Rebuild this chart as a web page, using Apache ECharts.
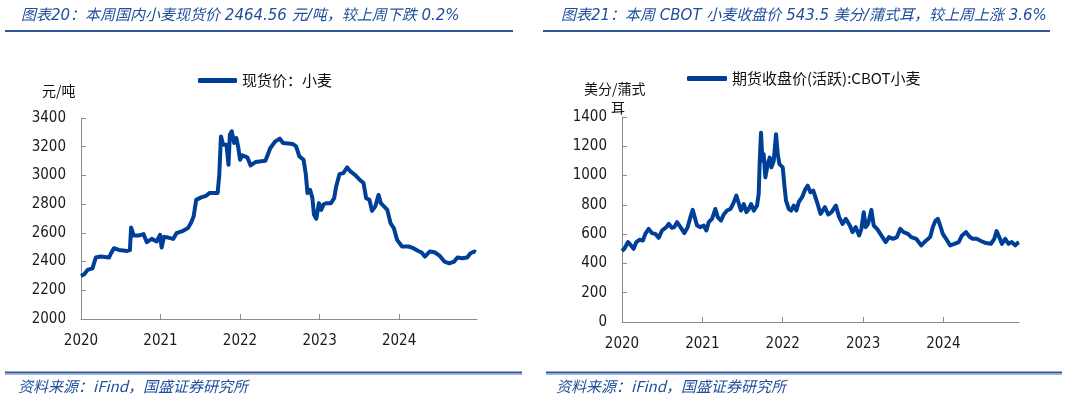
<!DOCTYPE html>
<html>
<head>
<meta charset="utf-8">
<script src="https://cdn.jsdelivr.net/npm/echarts@6/dist/echarts.min.js"></script>
<style>
  html, body { margin: 0; padding: 0; background: #fff; }
  #chart { width: 1065px; height: 398px; }
</style>
</head>
<body>
<div id="chart"></div>
<script>
// 国内小麦现货价 (元/吨), x = 年份(小数)
const wheatYear = [2020.000, 2020.041, 2020.083, 2020.145, 2020.170, 2020.186, 2020.248, 2020.352, 2020.380, 2020.414,
  2020.476, 2020.580, 2020.615, 2020.630, 2020.663, 2020.725, 2020.787, 2020.828, 2020.890, 2020.952,
  2020.994, 2021.014, 2021.043, 2021.097, 2021.159, 2021.201, 2021.284, 2021.346, 2021.387, 2021.416,
  2021.449, 2021.511, 2021.573, 2021.615, 2021.718, 2021.739, 2021.760, 2021.789, 2021.830, 2021.855,
  2021.872, 2021.896, 2021.925, 2021.954, 2021.979, 2022.000, 2022.029, 2022.091, 2022.133, 2022.195,
  2022.319, 2022.381, 2022.443, 2022.500, 2022.541, 2022.664, 2022.705, 2022.746, 2022.799, 2022.828,
  2022.848, 2022.881, 2022.910, 2022.930, 2022.959, 2022.992, 2023.020, 2023.053, 2023.094, 2023.143,
  2023.184, 2023.209, 2023.250, 2023.299, 2023.348, 2023.389, 2023.443, 2023.504, 2023.553, 2023.586,
  2023.627, 2023.660, 2023.701, 2023.742, 2023.770, 2023.811, 2023.852, 2023.893, 2023.934, 2023.975,
  2024.037, 2024.119, 2024.180, 2024.242, 2024.283, 2024.324, 2024.385, 2024.447, 2024.508, 2024.570,
  2024.631, 2024.693, 2024.734, 2024.795, 2024.857, 2024.898, 2024.947, 2024.965]
const wheatPrice = [2300, 2312, 2342, 2353, 2400, 2428, 2435, 2428, 2460, 2493,
  2481, 2474, 2480, 2637, 2581, 2581, 2591, 2535, 2558, 2540,
  2586, 2498, 2572, 2567, 2558, 2598, 2614, 2633, 2674, 2714,
  2830, 2847, 2858, 2877, 2877, 3005, 3272, 3214, 3214, 3074,
  3284, 3307, 3226, 3260, 3191, 3109, 3140, 3126, 3070, 3093,
  3102, 3191, 3237, 3256, 3226, 3219, 3202, 3133, 3109, 3005,
  2877, 2900, 2842, 2726, 2698, 2807, 2760, 2800, 2807, 2807,
  2842, 2923, 3009, 3016, 3056, 3028, 3005, 2970, 2947, 2842,
  2830, 2753, 2784, 2865, 2807, 2784, 2760, 2667, 2633, 2551,
  2505, 2505, 2493, 2474, 2463, 2435, 2470, 2465, 2442, 2400,
  2388, 2400, 2428, 2423, 2428, 2458, 2470, 2465]

// CBOT小麦期货收盘价 (美分/蒲式耳)
const cbotYear = [2020.000, 2020.029, 2020.075, 2020.112, 2020.145, 2020.178, 2020.220, 2020.261, 2020.290, 2020.332,
  2020.373, 2020.415, 2020.456, 2020.498, 2020.552, 2020.581, 2020.622, 2020.651, 2020.685, 2020.734,
  2020.776, 2020.817, 2020.851, 2020.880, 2020.905, 2020.934, 2020.975, 2021.017, 2021.050, 2021.079,
  2021.120, 2021.162, 2021.191, 2021.232, 2021.266, 2021.307, 2021.349, 2021.382, 2021.423, 2021.452,
  2021.481, 2021.515, 2021.548, 2021.577, 2021.606, 2021.639, 2021.680, 2021.701, 2021.714, 2021.730,
  2021.747, 2021.763, 2021.784, 2021.813, 2021.838, 2021.859, 2021.888, 2021.917, 2021.938, 2021.959,
  2021.979, 2022.000, 2022.021, 2022.041, 2022.075, 2022.104, 2022.137, 2022.170, 2022.199, 2022.241,
  2022.282, 2022.311, 2022.344, 2022.380, 2022.421, 2022.471, 2022.525, 2022.566, 2022.607, 2022.661,
  2022.702, 2022.744, 2022.785, 2022.835, 2022.868, 2022.909, 2022.950, 2022.979, 2023.008, 2023.033,
  2023.062, 2023.103, 2023.132, 2023.174, 2023.227, 2023.281, 2023.322, 2023.372, 2023.421, 2023.463,
  2023.504, 2023.558, 2023.599, 2023.661, 2023.723, 2023.785, 2023.835, 2023.868, 2023.901, 2023.930,
  2023.959, 2023.992, 2024.033, 2024.083, 2024.136, 2024.190, 2024.231, 2024.281, 2024.322, 2024.364,
  2024.413, 2024.467, 2024.529, 2024.591, 2024.632, 2024.661, 2024.694, 2024.727, 2024.769, 2024.810,
  2024.851, 2024.893, 2024.921, 2024.940]
const cbotPrice = [485, 500, 546, 523, 500, 546, 562, 557, 602, 636,
  607, 602, 575, 625, 648, 670, 643, 648, 682, 643,
  607, 648, 716, 766, 716, 659, 648, 659, 625, 682,
  704, 772, 716, 693, 734, 761, 772, 806, 863, 811,
  761, 806, 750, 772, 806, 761, 795, 874, 1101, 1293,
  1101, 1146, 988, 1078, 1123, 1056, 1101, 1282, 1146, 1078,
  1089, 1056, 931, 829, 772, 761, 795, 761, 818, 852,
  908, 931, 886, 897, 829, 738, 784, 734, 750, 795,
  716, 670, 704, 659, 614, 648, 591, 636, 750, 648,
  670, 766, 659, 636, 591, 546, 580, 568, 580, 636,
  614, 602, 580, 568, 523, 557, 580, 648, 693, 704,
  659, 602, 568, 523, 534, 546, 591, 614, 584, 568,
  568, 553, 539, 534, 568, 621, 580, 534, 568, 534,
  546, 523, 539, 544]

const yearTicks = [2020, 2021, 2022, 2023, 2024]

const titleColor = '#1f4e9c'
const lineColor = '#003f98'
const numFont = 'DejaVu Sans Condensed, DejaVu Sans, sans-serif'
const cjkFont = 'Noto Sans CJK SC, sans-serif'

function xAxisOf (gridIndex, max) {
  return {
    type: 'value',
    gridIndex: gridIndex,
    min: 2020,
    max: max,
    axisLine: { show: true, onZero: false, lineStyle: { color: '#8c8c8c', width: 1 } },
    axisTick: { show: true, inside: true, length: 5, customValues: yearTicks, lineStyle: { color: '#8c8c8c' } },
    axisLabel: {
      customValues: yearTicks,
      margin: 15,
      color: '#1a1a1a',
      fontFamily: numFont,
      fontSize: 15,
      formatter: v => String(Math.round(v))
    },
    splitLine: { show: false }
  }
}

function yAxisOf (gridIndex, min, max) {
  return {
    type: 'value',
    gridIndex: gridIndex,
    min: min,
    max: max,
    interval: 200,
    axisLine: { show: true, lineStyle: { color: '#8c8c8c', width: 1 } },
    axisTick: { show: true, inside: true, length: 5, lineStyle: { color: '#8c8c8c' } },
    axisLabel: { margin: 15, color: '#1a1a1a', fontFamily: numFont, fontSize: 15, formatter: v => String(v) },
    splitLine: { show: false }
  }
}

function pairs (xs, ys) {
  return xs.map((x, i) => [x, ys[i]])
}

function hLine (x1, x2, y, color, width) {
  return { type: 'line', shape: { x1: x1, y1: y, x2: x2, y2: y }, style: { stroke: color, lineWidth: width } }
}

function note (x, y, text, size, color, italic) {
  return {
    type: 'text',
    x: x,
    y: y,
    style: {
      text: text,
      fill: color,
      font: (italic ? 'italic ' : '') + size + 'px ' + cjkFont,
      textVerticalAlign: 'middle'
    }
  }
}

const chart = echarts.init(document.getElementById('chart'))

chart.setOption({
  animation: false,
  title: [
    {
      text: '图表20：本周国内小麦现货价 2464.56 元/吨，较上周下跌 0.2%',
      left: 16,
      top: 4,
      textStyle: { color: titleColor, fontStyle: 'italic', fontWeight: 'normal', fontSize: 15, fontFamily: 'DejaVu Sans, ' + cjkFont }
    },
    {
      text: '图表21：本周 CBOT 小麦收盘价 543.5 美分/蒲式耳，较上周上涨 3.6%',
      left: 556,
      top: 4,
      textStyle: { color: titleColor, fontStyle: 'italic', fontWeight: 'normal', fontSize: 15, fontFamily: 'DejaVu Sans, ' + cjkFont }
    }
  ],
  legend: [
    {
      data: ['现货价：小麦'],
      left: 193,
      top: 68,
      icon: 'roundRect',
      itemWidth: 39,
      itemHeight: 5,
      itemGap: 5,
      textStyle: { color: '#111', fontSize: 15, fontFamily: cjkFont }
    },
    {
      data: ['期货收盘价(活跃):CBOT小麦'],
      left: 682,
      top: 66,
      icon: 'roundRect',
      itemWidth: 40,
      itemHeight: 5,
      itemGap: 5,
      textStyle: { color: '#111', fontSize: 15, fontFamily: cjkFont }
    }
  ],
  grid: [
    { left: 81, top: 118, width: 396, height: 201 },
    { left: 622, top: 117, width: 397, height: 205 }
  ],
  xAxis: [xAxisOf(0, 2024.98), xAxisOf(1, 2024.94)],
  yAxis: [yAxisOf(0, 2000, 3400), yAxisOf(1, 0, 1400)],
  series: [
    {
      name: '现货价：小麦',
      type: 'line',
      xAxisIndex: 0,
      yAxisIndex: 0,
      symbol: 'none',
      itemStyle: { color: lineColor },
      lineStyle: { color: lineColor, width: 4, join: 'round' },
      data: pairs(wheatYear, wheatPrice)
    },
    {
      name: '期货收盘价(活跃):CBOT小麦',
      type: 'line',
      xAxisIndex: 1,
      yAxisIndex: 1,
      symbol: 'none',
      itemStyle: { color: lineColor },
      lineStyle: { color: lineColor, width: 4, join: 'round' },
      data: pairs(cbotYear, cbotPrice)
    }
  ],
  graphic: [
    hLine(5, 513, 31, '#2f5597', 2),
    hLine(543, 1050, 31, '#2f5597', 2),
    hLine(5, 522, 372.5, '#2f5597', 2),
    hLine(5, 522, 374.5, '#9db4dc', 1),
    hLine(546, 1062, 372.5, '#2f5597', 2),
    hLine(546, 1062, 374.5, '#9db4dc', 1),
    note(18, 386, '资料来源：iFind，国盛证券研究所', 15, titleColor, true),
    note(556, 386, '资料来源：iFind，国盛证券研究所', 15, titleColor, true),
    note(42, 91, '元/吨', 14, '#111', false),
    note(584, 89, '美分/蒲式', 14, '#111', false),
    note(611, 108, '耳', 14, '#111', false)
  ]
})
</script>
</body>
</html>
